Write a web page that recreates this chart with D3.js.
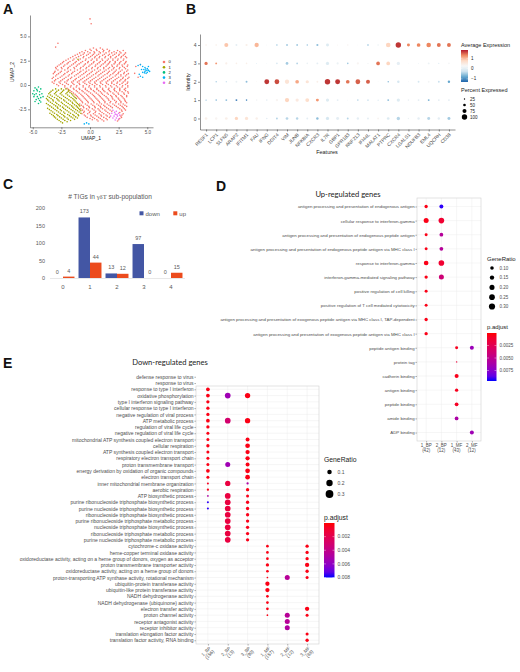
<!DOCTYPE html>
<html>
<head>
<meta charset="utf-8">
<script src="https://cdn.jsdelivr.net/npm/d3@7"></script>
<style>
  html, body { margin: 0; padding: 0; background: #fff; }
  svg { display: block; font-family: "Liberation Sans", Arial, sans-serif; }
</style>
</head>
<body>
<svg id="fig" width="520" height="672"></svg>
<script>
'use strict';

/* ---------- A: UMAP (rows of [y, [x...]]) ---------- */
const umapClusters = ['0', '1', '2', '3', '4'];
const umapColors = ['#F8766D', '#A3A500', '#00BF7D', '#00B0F6', '#E76BF3'];
const umap0Rows = [
  [3.8, [0.3, 0.9]],
  [3.68, [0.0, 0.55, 1.1, 1.5]],
  [3.55, [-0.4, 0.1, 0.6, 1.2, 1.7, 2.4, 2.9]],
  [3.42, [-0.7, -0.2, 0.35, 0.8, 1.15, 1.65, 2.1, 2.6]],
  [3.3, [-0.9, -0.5, 0.0, 0.4, 0.9, 1.4, 1.9, 2.3, 2.7, 3.1]],
  [3.17, [-1.1, -0.6, -0.15, 0.3, 0.75, 1.25, 1.7, 2.15, 2.55, 3.0]],
  [3.05, [-1.3, -0.8, -0.3, 0.2, 0.6, 1.1, 1.6, 2.0, 2.5, 2.9]],
  [2.92, [-1.5, -1.0, -0.55, 0.05, 0.45, 0.85, 1.35, 1.8, 2.3, 2.75, 3.1]],
  [2.8, [-1.7, -1.2, -0.6, -0.1, 0.4, 0.8, 1.3, 1.8, 2.2, 2.7, 3.2]],
  [2.68, [-1.9, -1.4, -0.85, -0.35, 0.2, 0.6, 1.05, 1.6, 2.0, 2.45, 2.95]],
  [2.55, [-2.1, -1.5, -1.0, -0.4, 0.1, 0.6, 1.1, 1.5, 2.0, 2.4, 2.9]],
  [2.42, [-2.3, -1.75, -1.2, -0.65, -0.15, 0.35, 0.9, 1.35, 1.75, 2.2, 2.7, 3.15]],
  [2.3, [-2.4, -1.9, -1.3, -0.8, -0.2, 0.3, 0.8, 1.3, 1.7, 2.2, 2.6, 3.1]],
  [2.17, [-2.55, -2.0, -1.45, -0.95, -0.4, 0.15, 0.65, 1.15, 1.6, 2.1, 2.55, 3.0]],
  [2.05, [-2.7, -2.2, -1.6, -1.1, -0.5, 0.0, 0.5, 1.0, 1.5, 1.9, 2.4, 2.8, 3.3]],
  [1.92, [-2.85, -2.3, -1.75, -1.2, -0.6, -0.1, 0.45, 0.9, 1.4, 1.95, 2.35, 2.85, 3.25]],
  [1.8, [-3.0, -2.5, -1.9, -1.4, -0.8, -0.3, 0.2, 0.7, 1.2, 1.7, 2.1, 2.6, 3.0]],
  [1.67, [-2.95, -2.45, -1.95, -1.35, -0.85, -0.35, 0.15, 0.65, 1.2, 1.6, 2.05, 2.55, 3.1]],
  [1.55, [-2.8, -2.2, -1.7, -1.1, -0.6, -0.1, 0.4, 0.9, 1.4, 1.9, 2.3, 2.8, 3.3]],
  [1.42, [-3.05, -2.5, -1.9, -1.35, -0.8, -0.3, 0.2, 0.75, 1.25, 1.7, 2.2, 2.65, 3.2]],
  [1.3, [-3.1, -2.6, -2.0, -1.5, -0.9, -0.4, 0.1, 0.6, 1.1, 1.6, 2.1, 2.5, 3.0]],
  [1.17, [-3.2, -2.75, -2.2, -1.6, -1.05, -0.55, -0.05, 0.5, 0.95, 1.5, 2.0, 2.45, 2.95, 3.35]],
  [1.05, [-2.9, -2.3, -1.8, -1.2, -0.7, -0.2, 0.3, 0.8, 1.3, 1.8, 2.3, 2.7, 3.2]],
  [0.92, [-3.0, -2.45, -1.9, -1.35, -0.85, -0.3, 0.15, 0.7, 1.15, 1.7, 2.2, 2.7, 3.1]],
  [0.8, [-3.2, -2.6, -2.1, -1.6, -1.0, -0.5, 0.0, 0.5, 1.0, 1.5, 2.0, 2.5, 2.9, 3.4]],
  [0.67, [-3.3, -2.8, -2.25, -1.7, -1.2, -0.65, -0.15, 0.35, 0.85, 1.35, 1.85, 2.35, 2.85, 3.3]],
  [0.55, [-3.0, -2.4, -1.9, -1.3, -0.8, -0.3, 0.2, 0.7, 1.2, 1.7, 2.2, 2.7, 3.1]],
  [0.42, [-3.1, -2.55, -2.0, -1.45, -0.95, -0.45, 0.05, 0.55, 1.05, 1.55, 2.05, 2.6, 3.05]],
  [0.3, [-3.3, -2.7, -2.2, -1.6, -1.1, -0.6, -0.1, 0.4, 0.9, 1.4, 1.9, 2.4, 2.9, 3.3]],
  [0.17, [-3.15, -2.6, -2.05, -1.5, -0.95, -0.45, 0.0, 0.45, 0.95, 1.45, 1.9, 2.35, 2.8, 3.25]],
  [0.05, [-2.9, -2.4, -1.9, -1.4, -0.9, -0.3, 0.2, 0.6, 1.1, 1.6, 2.1, 2.6, 3.1]],
  [-0.08, [-2.75, -2.2, -1.65, -1.15, -0.6, -0.05, 0.4, 0.85, 1.35, 1.8, 2.3, 2.85, 3.3]],
  [-0.2, [-2.2, -1.7, -1.2, -0.6, -0.1, 0.4, 0.9, 1.4, 1.9, 2.4, 2.8, 3.3]],
  [-0.33, [-2.0, -1.45, -0.95, -0.4, 0.05, 0.6, 1.1, 1.65, 2.15, 2.6, 3.1]],
  [-0.45, [-1.9, -1.4, -0.9, -0.4, 0.1, 0.6, 1.1, 1.6, 2.1, 2.6, 3.0]],
  [-0.58, [-1.75, -1.2, -0.7, -0.25, 0.3, 0.75, 1.2, 1.7, 2.15, 2.6, 3.1]],
  [-0.7, [-1.6, -1.1, -0.6, -0.1, 0.4, 0.9, 1.3, 1.8, 2.3, 2.8, 3.3]],
  [-0.83, [-1.45, -0.95, -0.45, 0.05, 0.55, 1.0, 1.5, 2.0, 2.45, 2.95, 3.35]],
  [-0.95, [-1.3, -0.8, -0.3, 0.2, 0.7, 1.1, 1.6, 2.1, 2.5, 3.0]],
  [-1.08, [-1.2, -0.7, -0.2, 0.3, 0.8, 1.25, 1.8, 2.25, 2.7, 3.2]],
  [-1.2, [-1.1, -0.6, -0.1, 0.4, 0.9, 1.4, 1.9, 2.3, 2.8, 3.2]],
  [-1.33, [-1.0, -0.5, 0.0, 0.5, 1.0, 1.5, 1.95, 2.45, 2.9]],
  [-1.45, [-0.9, -0.4, 0.1, 0.6, 1.1, 1.6, 2.0, 2.5, 3.0]],
  [-1.58, [-0.8, -0.3, 0.2, 0.7, 1.2, 1.65, 2.15, 2.6, 3.05]],
  [-1.7, [-0.7, -0.2, 0.3, 0.8, 1.3, 1.8, 2.3, 2.7, 3.1]],
  [-1.83, [-0.65, -0.15, 0.35, 0.85, 1.3, 1.75, 2.25, 2.7, 3.2]],
  [-1.95, [-0.9, -0.4, 0.1, 0.6, 1.0, 1.5, 2.0, 2.5, 2.9]],
  [-2.08, [-0.75, -0.25, 0.25, 0.75, 1.2, 1.65, 2.15, 2.65, 3.05]],
  [-2.2, [-0.6, -0.1, 0.4, 0.9, 1.3, 1.8, 2.3, 2.8, 3.2]],
  [-2.33, [-0.55, -0.05, 0.45, 0.95, 1.45, 1.95, 2.45, 2.9]],
  [-2.45, [-0.8, -0.3, 0.2, 0.7, 1.1, 1.6, 2.6, 3.0]],
  [-2.58, [-0.65, -0.15, 0.35, 0.8, 1.3, 1.75, 2.75, 3.1]],
  [-2.7, [-0.5, 0.0, 0.5, 0.9, 1.4, 1.9, 2.8]],
  [-2.83, [-0.55, -0.05, 0.45, 1.05, 1.55, 2.6]],
  [-2.95, [-0.7, -0.2, 0.3, 0.8, 1.2, 1.7, 2.9]],
  [-3.08, [-0.5, 0.05, 0.45, 0.95, 1.4, 2.8]],
  [-3.2, [-0.4, 0.1, 0.6, 1.0, 1.5, 2.7]],
  [-3.33, [-0.25, 0.25, 0.75, 1.2, 1.7, 2.75]],
  [-3.45, [0.0, 0.4, 0.9, 1.4, 2.6]],
  [-3.58, [0.2, 0.6, 1.05, 1.5, 2.5]],
  [-3.7, [0.7, 1.2, 2.4]]
];
const umap0Extra = [[0.0, 6.8], [0.1, 6.3], [-2.8, 4.3], [-3.0, 3.9], [4.0, 1.9], [3.9, 1.2], [4.2, 0.8], [4.4, 2.1]];
const umap1Rows = [
  [-0.4, [-3.0, -2.5, -2.1]],
  [-0.53, [-3.25, -2.75, -2.3, -1.85]],
  [-0.65, [-3.4, -2.9, -2.4, -1.9]],
  [-0.78, [-3.5, -3.0, -2.5, -2.0, -1.75]],
  [-0.9, [-3.6, -3.1, -2.6, -2.1, -1.6]],
  [-1.03, [-3.45, -2.95, -2.45, -1.95, -1.5]],
  [-1.15, [-3.7, -3.3, -2.8, -2.3, -1.8, -1.4]],
  [-1.28, [-3.55, -3.1, -2.65, -2.15, -1.65, -1.3]],
  [-1.4, [-3.8, -3.4, -2.9, -2.5, -2.0, -1.5, -1.2]],
  [-1.53, [-3.7, -3.25, -2.8, -2.3, -1.85, -1.4]],
  [-1.65, [-3.6, -3.2, -2.7, -2.2, -1.7, -1.3]],
  [-1.78, [-3.45, -3.0, -2.5, -2.05, -1.55, -1.2]],
  [-1.9, [-3.8, -3.3, -2.9, -2.4, -1.9, -1.5, -1.1]],
  [-2.03, [-3.65, -3.15, -2.75, -2.25, -1.75, -1.35, -1.0]],
  [-2.15, [-3.5, -3.0, -2.6, -2.1, -1.6, -1.2, -0.9]],
  [-2.28, [-3.35, -2.85, -2.4, -1.95, -1.5, -1.1]],
  [-2.4, [-3.7, -3.2, -2.8, -2.3, -1.8, -1.4, -1.0]],
  [-2.53, [-3.55, -3.05, -2.6, -2.15, -1.65, -1.25, -0.9]],
  [-2.65, [-3.4, -2.9, -2.5, -2.0, -1.5, -1.1, -0.8]],
  [-2.78, [-3.25, -2.75, -2.3, -1.85, -1.35, -0.95]],
  [-2.9, [-3.5, -3.1, -2.6, -2.2, -1.7, -1.2, -0.8]],
  [-3.03, [-3.35, -2.9, -2.45, -1.95, -1.5, -1.05]],
  [-3.15, [-3.2, -2.8, -2.3, -1.8, -1.4, -1.0]],
  [-3.28, [-3.1, -2.65, -2.2, -1.65, -1.25]],
  [-3.4, [-3.0, -2.5, -2.0, -1.5, -1.1]],
  [-3.53, [-2.85, -2.35, -1.9, -1.35]],
  [-3.65, [-2.7, -2.2, -1.7]],
  [-3.78, [-2.55, -2.0]],
  [-3.9, [-2.4]]
];
const umap1Extra = [[-1.05, 2.65]];
const umap2Pts = [[-4.8, -0.3], [-4.5, -0.2], [-4.3, -0.4], [-4.9, -0.6], [-4.6, -0.6], [-4.4, -0.7], [-5.0, -0.9],
  [-4.7, -0.9], [-4.4, -1.0], [-4.2, -0.9], [-4.9, -1.2], [-4.6, -1.2], [-4.3, -1.3], [-4.7, -1.5], [-4.4, -1.6],
  [-4.5, -1.9], [-4.8, -1.7], [-4.1, -1.2], [-4.65, -0.45], [-4.85, -1.0], [-4.5, -1.4], [-4.3, -1.75]];
const umap3Pts = [[4.6, 1.9], [4.8, 1.8], [5.0, 1.7], [4.7, 1.6], [4.9, 1.5], [5.1, 1.5], [4.8, 1.4], [5.0, 1.3],
  [4.6, 1.3], [4.9, 1.2], [5.2, 1.4], [4.5, 1.6], [4.4, 2.1], [4.2, 2.0], [4.4, 0.9], [4.6, 0.8], [4.3, 1.1],
  [5.1, 1.9], [4.85, 1.65], [5.05, 1.55], [4.75, 1.25], [-0.5, -4.0], [-0.3, -3.9], [-0.1, -4.0]];
const umap4Pts = [[2.0, -2.6], [2.3, -2.7], [1.9, -2.9], [2.2, -3.0], [2.5, -2.9], [1.8, -3.2], [2.1, -3.2],
  [2.4, -3.2], [2.6, -3.1], [2.0, -3.4], [2.3, -3.4], [2.5, -3.5], [2.2, -3.6], [2.15, -2.8], [2.35, -3.05]];
const umapTicksX = [-5, -2.5, 0, 2.5, 5];
const umapTicksY = [-2.5, 0, 2.5, 5];

/* ---------- B: dot plot ---------- */
const bGenes = ['RESF1', 'LCP1', 'SLFN5', 'ARAP2', 'IFITM1', 'FAU', 'IFNG', 'DDIT4', 'VIM', 'JUNB', 'NFKBIA', 'CXCR3',
  'IL7R', 'GBP1', 'GPR183', 'RNF213', 'IFI44L', 'MALAT1', 'PTPRC', 'CXCR4', 'LGALS1', 'NDUFB3', 'EML4', 'UQCRH', 'CD38'];
const bIdent = ['0', '1', '2', '3', '4'];
const bAvg = [
  [0.4, 0.3, 0.4, 0.8, 0.6, 0.4, 0.0, -0.4, -0.4, -0.4, 0.0, -0.6, -0.2, 0.0, -0.4, 0.0, 0.0, 0.3, -0.1, -0.4, 0.1, 0.0, -0.4, 0.0, -0.5],
  [-0.6, -0.6, -0.6, -1.1, -1.0, 0.2, 0.0, 0.3, 0.8, 0.5, 0.7, 1.2, -0.1, 0.0, 0.0, -0.4, -0.5, -0.6, -0.6, -0.1, 0.1, 0.0, -0.7, 0.0, 0.0],
  [0.1, -0.5, -0.3, 0.1, -0.6, 0.3, 1.7, 1.6, 0.6, 1.1, 0.6, 0.4, 1.7, 1.7, 1.4, 1.5, 1.5, 0.2, -0.7, -0.2, 0.1, -0.2, 0.2, -0.3, -0.8],
  [1.4, 1.2, 0.4, 0.4, 0.4, -0.3, 0.1, -0.2, -0.5, -0.4, 0.1, 0.0, -0.1, 0.1, -0.5, 0.3, 0.2, 1.4, 0.8, 0.0, 0.2, -0.1, 0.1, -0.1, 0.2],
  [0.4, 0.4, 0.9, 0.0, 0.4, 1.0, 0.1, -0.5, -0.5, -0.5, -0.6, -0.6, -0.1, 0.3, 0.3, 0.2, -0.6, 0.1, 0.8, 1.7, 1.3, 1.3, 1.3, 1.4, 1.4]
];
const bPct = [
  [50, 45, 50, 60, 60, 45, 30, 35, 50, 45, 35, 45, 60, 55, 35, 45, 35, 35, 50, 62, 25, 45, 55, 45, 55],
  [25, 30, 35, 35, 30, 30, 30, 45, 80, 60, 72, 55, 60, 35, 15, 30, 25, 18, 35, 60, 30, 35, 35, 35, 35],
  [15, 25, 25, 35, 35, 15, 90, 88, 80, 68, 60, 35, 100, 92, 68, 88, 74, 15, 25, 45, 15, 35, 35, 35, 45],
  [60, 35, 40, 30, 30, 15, 15, 30, 50, 35, 30, 35, 60, 40, 30, 40, 25, 68, 68, 60, 15, 15, 35, 20, 30],
  [30, 30, 75, 35, 40, 80, 15, 30, 35, 35, 25, 40, 55, 20, 30, 15, 30, 30, 85, 100, 55, 68, 85, 72, 72]
];
const bExpRange = [-1.3, 1.8];
const bExpTicks = [1, 0, -1];
const bPctTicks = [25, 50, 75, 100];

/* ---------- C: bar chart ---------- */
const cCats = ['0', '1', '2', '3', '4'];
const cDown = [0, 173, 13, 97, 0];
const cUp = [4, 44, 12, 0, 15];
const cTicks = [0, 50, 100, 150, 200];

/* ---------- D: up-regulated GO terms ---------- */
const dTerms = [
  'antigen processing and presentation of endogenous antigen',
  'cellular response to interferon-gamma',
  'antigen processing and presentation of endogenous peptide antigen',
  'antigen processing and presentation of endogenous peptide antigen via MHC class I',
  'response to interferon-gamma',
  'interferon-gamma-mediated signaling pathway',
  'positive regulation of cell killing',
  'positive regulation of T cell mediated cytotoxicity',
  'antigen processing and presentation of exogenous peptide antigen via MHC class I, TAP-dependent',
  'antigen processing and presentation of exogenous peptide antigen via MHC class I',
  'peptide antigen binding', 'protein tag', 'cadherin binding', 'antigen binding',
  'peptide binding', 'amide binding', 'ADP binding'
];
const dCols = ['1_BP', '2_BP', '1_MF', '2_MF'];
const dColN = [42, 12, 43, 12];
// [term, column, GeneRatio, p.adjust]
const dDots = [
  [0, 0, 0.085, 0.0004], [0, 1, 0.125, 0.0094],
  [1, 0, 0.195, 0.0004], [1, 1, 0.25, 0.0012],
  [2, 0, 0.07, 0.0004], [2, 1, 0.11, 0.0055],
  [3, 0, 0.07, 0.0004], [3, 1, 0.11, 0.0055],
  [4, 0, 0.17, 0.0004], [4, 1, 0.25, 0.0012],
  [5, 0, 0.085, 0.0004], [5, 1, 0.195, 0.004],
  [6, 0, 0.07, 0.0004], [7, 0, 0.07, 0.0004], [8, 0, 0.085, 0.0004], [9, 0, 0.085, 0.0004],
  [10, 2, 0.07, 0.0006], [10, 3, 0.125, 0.0068],
  [11, 2, 0.017, 0.0015], [12, 2, 0.125, 0.0005], [13, 2, 0.085, 0.0006],
  [14, 2, 0.11, 0.0008], [15, 2, 0.11, 0.006], [16, 3, 0.125, 0.0066]
];
const dRatioTicks = [0.10, 0.15, 0.20, 0.25, 0.30];
const dPRange = [0, 0.0096];
const dPTicks = [0.0025, 0.0050, 0.0075];

/* ---------- E: down-regulated GO terms ---------- */
const eTerms = [
  'defense response to virus', 'response to virus', 'response to type I interferon', 'oxidative phosphorylation',
  'type I interferon signaling pathway', 'cellular response to type I interferon', 'negative regulation of viral process',
  'ATP metabolic process', 'regulation of viral life cycle', 'negative regulation of viral life cycle',
  'mitochondrial ATP synthesis coupled electron transport', 'cellular respiration', 'ATP synthesis coupled electron transport',
  'respiratory electron transport chain', 'proton transmembrane transport', 'energy derivation by oxidation of organic compounds',
  'electron transport chain', 'inner mitochondrial membrane organization', 'aerobic respiration', 'ATP biosynthetic process',
  'purine ribonucleoside triphosphate biosynthetic process', 'purine nucleoside triphosphate biosynthetic process',
  'ribonucleoside triphosphate biosynthetic process', 'purine ribonucleoside triphosphate metabolic process',
  'nucleoside triphosphate biosynthetic process', 'ribonucleoside triphosphate metabolic process',
  'purine nucleoside triphosphate metabolic process', 'cytochrome-c oxidase activity', 'heme-copper terminal oxidase activity',
  'oxidoreductase activity, acting on a heme group of donors, oxygen as acceptor', 'proton transmembrane transporter activity',
  'oxidoreductase activity, acting on a heme group of donors', 'proton-transporting ATP synthase activity, rotational mechanism',
  'ubiquitin-protein transferase activity', 'ubiquitin-like protein transferase activity', 'NADH dehydrogenase activity',
  'NADH dehydrogenase (ubiquinone) activity', 'electron transfer activity', 'proton channel activity',
  'receptor antagonist activity', 'receptor inhibitor activity', 'translation elongation factor activity',
  'translation factor activity, RNA binding'
];
const eCols = ['1_BP', '2_BP', '3_BP', '1_MF', '2_MF', '3_MF'];
const eColN = [156, 13, 90, 157, 12, 88];
// [term, column, GeneRatio, p.adjust]
const eDots = [
  [2, 0, 0.068, 0.0003],
  [3, 0, 0.068, 0.0003], [3, 1, 0.16, 0.0055], [3, 2, 0.14, 0.0003],
  [4, 0, 0.054, 0.0003], [5, 0, 0.054, 0.0003], [6, 0, 0.054, 0.0003],
  [7, 0, 0.068, 0.0003], [7, 1, 0.16, 0.003], [7, 2, 0.14, 0.0003],
  [8, 0, 0.054, 0.0003], [9, 0, 0.045, 0.0003],
  [10, 0, 0.045, 0.0003], [10, 2, 0.079, 0.0003],
  [11, 0, 0.054, 0.0003], [11, 2, 0.11, 0.0003],
  [12, 0, 0.045, 0.0003], [12, 2, 0.092, 0.0003],
  [13, 0, 0.045, 0.0003], [13, 2, 0.092, 0.0003],
  [14, 0, 0.045, 0.0003], [14, 1, 0.124, 0.0055], [14, 2, 0.079, 0.0003],
  [15, 0, 0.068, 0.0003], [15, 2, 0.11, 0.0003],
  [16, 0, 0.045, 0.0003], [16, 2, 0.11, 0.0003],
  [17, 0, 0.02, 0.0006], [17, 1, 0.14, 0.0015], [17, 2, 0.026, 0.005],
  [18, 0, 0.026, 0.0004], [18, 2, 0.054, 0.0003],
  [19, 0, 0.014, 0.005], [19, 1, 0.16, 0.0015], [19, 2, 0.045, 0.0004],
  [20, 0, 0.02, 0.0078], [20, 1, 0.16, 0.0015], [20, 2, 0.054, 0.0004],
  [21, 0, 0.02, 0.0078], [21, 1, 0.16, 0.0015], [21, 2, 0.054, 0.0004],
  [22, 1, 0.16, 0.0015], [22, 2, 0.054, 0.0004],
  [23, 1, 0.16, 0.0015], [23, 2, 0.054, 0.0004],
  [24, 1, 0.16, 0.0015], [24, 2, 0.054, 0.0004],
  [25, 1, 0.16, 0.0015], [25, 2, 0.054, 0.0004],
  [26, 1, 0.16, 0.0015], [26, 2, 0.054, 0.0004],
  [27, 3, 0.036, 0.0003], [27, 5, 0.054, 0.0003],
  [28, 3, 0.036, 0.0003], [28, 5, 0.054, 0.0003],
  [29, 3, 0.036, 0.0003], [29, 5, 0.054, 0.0003],
  [30, 3, 0.054, 0.0003], [30, 5, 0.092, 0.0003],
  [31, 3, 0.036, 0.0003], [31, 5, 0.054, 0.0003],
  [32, 3, 0.014, 0.0003], [32, 4, 0.124, 0.0045], [32, 5, 0.045, 0.0003],
  [33, 3, 0.092, 0.0003], [34, 3, 0.092, 0.0003],
  [35, 3, 0.036, 0.0003], [36, 3, 0.036, 0.0003],
  [37, 3, 0.036, 0.0003], [37, 5, 0.092, 0.0003],
  [38, 3, 0.014, 0.0003], [38, 4, 0.124, 0.0045], [38, 5, 0.045, 0.0003],
  [39, 4, 0.124, 0.0045], [40, 4, 0.124, 0.0048],
  [41, 5, 0.045, 0.0003], [42, 5, 0.054, 0.0003]
];
const eRatioTicks = [0.1, 0.2, 0.3];
const ePRange = [0, 0.008];
const ePTicks = [0.002, 0.004, 0.006, 0.008];

/* ========================================================================== */
const svg = d3.select('#fig');
const GREY = '#4d4d4d';

function styleAxis(g, size, lineColor) {
  g.selectAll('path.domain').attr('stroke', lineColor).attr('stroke-width', 0.5);
  g.selectAll('.tick line').attr('stroke', lineColor).attr('stroke-width', 0.5);
  g.selectAll('.tick text').attr('font-size', size).attr('fill', GREY).attr('font-family', null);
  g.attr('font-family', null);
}

function letter(ch, x, y) {
  svg.append('text').attr('x', x).attr('y', y).attr('font-size', 14).attr('font-weight', 'bold')
    .attr('fill', '#111').text(ch);
}
letter('A', 3, 14);
letter('B', 186, 14);
letter('C', 3, 189);
letter('D', 216, 191);
letter('E', 3, 368);

/* ---------- A ---------- */
(function () {
  const g = svg.append('g');
  const x = d3.scaleLinear().domain([-5.24, 5.5]).range([30, 153]);
  const y = d3.scaleLinear().domain([-4.35, 7.2]).range([127.3, 15]);
  const pts = [];
  umap0Rows.forEach(([yy, xs]) => xs.forEach(xx => pts.push([xx, yy, 0])));
  umap0Extra.forEach(p => pts.push([p[0], p[1], 0]));
  umap1Rows.forEach(([yy, xs]) => xs.forEach(xx => pts.push([xx, yy, 1])));
  umap1Extra.forEach(p => pts.push([p[0], p[1], 1]));
  umap2Pts.forEach(p => pts.push([p[0], p[1], 2]));
  umap3Pts.forEach(p => pts.push([p[0], p[1], 3]));
  umap4Pts.forEach(p => pts.push([p[0], p[1], 4]));

  g.append('g').selectAll('circle').data(pts).join('circle')
    .attr('cx', d => x(d[0])).attr('cy', d => y(d[1])).attr('r', 0.8)
    .attr('fill', d => umapColors[d[2]]);

  const gx = g.append('g').attr('transform', 'translate(0,127.3)')
    .call(d3.axisBottom(x).tickValues(umapTicksX).tickSize(2).tickSizeOuter(0).tickPadding(1.5)
      .tickFormat(d => d.toFixed(1)));
  styleAxis(gx, 4.5, '#222');
  const gy = g.append('g').attr('transform', 'translate(30,0)')
    .call(d3.axisLeft(y).tickValues(umapTicksY).tickSize(2).tickSizeOuter(0).tickPadding(1.5)
      .tickFormat(d => d.toFixed(1)));
  styleAxis(gy, 4.5, '#222');

  g.append('text').attr('x', 91).attr('y', 140).attr('text-anchor', 'middle')
    .attr('font-size', 5).attr('fill', '#222').text('UMAP_1');
  g.append('text').attr('transform', 'translate(14,72) rotate(-90)').attr('text-anchor', 'middle')
    .attr('font-size', 5).attr('fill', '#222').text('UMAP_2');

  const lg = g.append('g');
  umapClusters.forEach((c, i) => {
    lg.append('circle').attr('cx', 164).attr('cy', 62 + i * 5.2).attr('r', 1.3).attr('fill', umapColors[i]);
    lg.append('text').attr('x', 168.5).attr('y', 62 + i * 5.2).attr('dy', '0.35em')
      .attr('font-size', 4.2).attr('fill', '#222').text(c);
  });
})();

/* ---------- B ---------- */
(function () {
  const g = svg.append('g');
  const x = d3.scalePoint().domain(bGenes).range([200, 455]).padding(0.6);
  const y = d3.scalePoint().domain(bIdent).range([129.5, 34]).padding(0.6);
  const bColors = ['#2166AC', '#67A9CF', '#D1E5F0', '#F7F7F7', '#FDDBC7', '#EF8A62', '#B2182B'];
  const col = d3.scaleLinear()
    .domain(d3.range(7).map(i => bExpRange[0] + i * (bExpRange[1] - bExpRange[0]) / 6))
    .range(bColors).interpolate(d3.interpolateLab);
  const r = d3.scaleLinear().domain([0, 100]).range([0, 2.7]);

  const cells = [];
  bIdent.forEach((id, i) => bGenes.forEach((gn, j) => cells.push({ id, gn, v: bAvg[i][j], p: bPct[i][j] })));
  g.append('g').selectAll('circle').data(cells).join('circle')
    .attr('cx', d => x(d.gn)).attr('cy', d => y(d.id)).attr('r', d => r(d.p))
    .attr('fill', d => col(d.v));

  const gx = g.append('g').attr('transform', 'translate(0,129.5)')
    .call(d3.axisBottom(x).tickSize(2).tickSizeOuter(0));
  styleAxis(gx, 4.8, '#222');
  gx.selectAll('.tick text').attr('x', 0).attr('y', 0).attr('dy', '0.35em')
    .attr('transform', 'translate(0.5,4.5) rotate(-45)').attr('text-anchor', 'end');
  const gy = g.append('g').attr('transform', 'translate(200,0)')
    .call(d3.axisLeft(y).tickSize(2).tickSizeOuter(0).tickPadding(1.5));
  styleAxis(gy, 5, '#222');

  g.append('text').attr('x', 327).attr('y', 154).attr('text-anchor', 'middle')
    .attr('font-size', 5.5).attr('fill', '#222').text('Features');
  g.append('text').attr('transform', 'translate(190,82) rotate(-90)').attr('text-anchor', 'middle')
    .attr('font-size', 5.5).attr('fill', '#222').text('Identity');

  // legends
  const defs = svg.append('defs');
  const grad = defs.append('linearGradient').attr('id', 'bgrad').attr('x1', 0).attr('x2', 0).attr('y1', 0).attr('y2', 1);
  bColors.slice().reverse().forEach((c, i) => grad.append('stop').attr('offset', (i / 6 * 100) + '%').attr('stop-color', c));
  g.append('text').attr('x', 461).attr('y', 47).attr('font-size', 5.5).attr('fill', '#222').text('Average Expression');
  const cb = d3.scaleLinear().domain([bExpRange[1], bExpRange[0]]).range([50, 82]);
  g.append('rect').attr('x', 461).attr('y', 50).attr('width', 7).attr('height', 32).attr('fill', 'url(#bgrad)');
  bExpTicks.forEach(t => {
    g.append('line').attr('x1', 461).attr('x2', 462.5).attr('y1', cb(t)).attr('y2', cb(t)).attr('stroke', '#fff').attr('stroke-width', 0.4);
    g.append('line').attr('x1', 466.5).attr('x2', 468).attr('y1', cb(t)).attr('y2', cb(t)).attr('stroke', '#fff').attr('stroke-width', 0.4);
    g.append('text').attr('x', 471).attr('y', cb(t)).attr('dy', '0.35em').attr('font-size', 4.5)
      .attr('fill', '#222').text(t < 0 ? '\u2212' + Math.abs(t) : t);
  });
  g.append('text').attr('x', 461).attr('y', 92).attr('font-size', 5.5).attr('fill', '#222').text('Percent Expressed');
  const ly = d3.scaleLinear().domain([25, 100]).range([99, 117]);
  bPctTicks.forEach(t => {
    g.append('circle').attr('cx', 464.5).attr('cy', ly(t)).attr('r', r(t)).attr('fill', '#000');
    g.append('text').attr('x', 470).attr('y', ly(t)).attr('dy', '0.35em').attr('font-size', 4.5)
      .attr('fill', '#222').text(t);
  });
})();

/* ---------- C ---------- */
(function () {
  const g = svg.append('g');
  const x0 = d3.scaleBand().domain(cCats).range([49.5, 184.5]).paddingInner(0.15).paddingOuter(0.075);
  const x1 = d3.scaleBand().domain(['down', 'up']).range([0, x0.bandwidth()]);
  const y = d3.scaleLinear().domain([0, 200]).range([278, 208]);
  const colors = { down: '#4356A4', up: '#EC4B1D' };
  const TXT = '#595959';

  g.append('text').attr('x', 110).attr('y', 198.5).attr('text-anchor', 'middle').attr('font-size', 6.6).attr('fill', TXT)
    .call(t => {
      t.append('tspan').text('# TIGs in ');
      t.append('tspan').attr('font-family', '"Liberation Serif", "DejaVu Serif", serif').text('\u03B3\u03B4T');
      t.append('tspan').text(' sub-population');
    });

  const gy = g.append('g').attr('transform', 'translate(47,0)')
    .call(d3.axisLeft(y).tickValues(cTicks).tickSize(0).tickPadding(2));
  gy.select('.domain').remove();
  gy.selectAll('.tick text').attr('font-size', 5.5).attr('fill', TXT);
  gy.attr('font-family', null);

  const gx = g.append('g').attr('transform', `translate(0,${y(0)})`)
    .call(d3.axisBottom(x0).tickSize(0).tickPadding(7));
  gx.select('.domain').attr('stroke', '#d9d9d9').attr('stroke-width', 0.6);
  gx.selectAll('.tick text').attr('font-size', 6).attr('fill', TXT);
  gx.attr('font-family', null);

  const series = [];
  cCats.forEach((c, i) => {
    series.push({ c, k: 'down', v: cDown[i] });
    series.push({ c, k: 'up', v: cUp[i] });
  });
  g.append('g').selectAll('rect').data(series).join('rect')
    .attr('x', d => x0(d.c) + x1(d.k)).attr('width', x1.bandwidth())
    .attr('y', d => y(d.v)).attr('height', d => y(0) - y(d.v))
    .attr('fill', d => colors[d.k]);
  g.append('g').selectAll('text').data(series).join('text')
    .attr('x', d => x0(d.c) + x1(d.k) + x1.bandwidth() / 2).attr('y', d => y(d.v) - 4)
    .attr('text-anchor', 'middle').attr('font-size', 5.5).attr('fill', TXT).text(d => d.v);

  [['down', 139.5, 145.5], ['up', 173.3, 179.3]].forEach(([k, rx, tx]) => {
    g.append('rect').attr('x', rx).attr('y', 211.3).attr('width', 4).attr('height', 4).attr('fill', colors[k]);
    g.append('text').attr('x', tx).attr('y', 215.6).attr('font-size', 6).attr('fill', TXT).text(k);
  });
})();

/* ---------- D / E shared enrichment dot plot ---------- */
function enrichPanel(o) {
  const g = svg.append('g');
  const x = d3.scalePoint().domain(o.cols).range(o.xRange).padding(0.6);
  const y = d3.scalePoint().domain(o.terms).range(o.yRange).padding(0.6);
  const col = d3.scaleSequential(d3.interpolateLab('red', 'blue')).domain(o.pRange);
  const left = o.xRange[0], right = o.xRange[1], bottom = o.yRange[1];
  const top = o.panelTop;

  g.append('rect').attr('x', left).attr('y', top).attr('width', right - left).attr('height', bottom - top)
    .attr('fill', '#fff');
  o.terms.forEach(t => {
    if (y(t) < top) return;
    g.append('line').attr('x1', left).attr('x2', right).attr('y1', y(t)).attr('y2', y(t))
      .attr('stroke', '#ebebeb').attr('stroke-width', 0.45);
  });
  o.cols.forEach(c => g.append('line').attr('x1', x(c)).attr('x2', x(c)).attr('y1', top).attr('y2', bottom)
    .attr('stroke', '#ebebeb').attr('stroke-width', 0.45));
  g.append('rect').attr('x', left).attr('y', top).attr('width', right - left).attr('height', bottom - top)
    .attr('fill', 'none').attr('stroke', '#cfcfcf').attr('stroke-width', 0.6);

  const gy = g.append('g').attr('transform', `translate(${left},0)`)
    .call(d3.axisLeft(y).tickSize(1.6).tickSizeOuter(0).tickPadding(0.8));
  gy.select('.domain').remove();
  styleAxis(gy, o.labelSize, '#666');

  const gx = g.append('g').attr('transform', `translate(0,${bottom})`)
    .call(d3.axisBottom(x).tickSize(1.6).tickSizeOuter(0).tickFormat(''));
  gx.select('.domain').remove();
  styleAxis(gx, o.labelSize, '#666');
  o.cols.forEach((c, i) => {
    const t = g.append('text').attr('font-size', o.colLabelSize).attr('fill', GREY);
    if (o.rotate) {
      t.attr('transform', `translate(${x(c) + 2.2},${bottom + 3.5}) rotate(-45)`).attr('text-anchor', 'end');
      t.append('tspan').attr('x', 0).attr('dy', '0.3em').text(c);
      t.append('tspan').attr('x', 0).attr('dy', '1.05em').text(`(${o.colN[i]})`);
    } else {
      t.attr('text-anchor', 'middle');
      t.append('tspan').attr('x', x(c)).attr('y', bottom + 5.5).text(c);
      t.append('tspan').attr('x', x(c)).attr('y', bottom + 10.5).text(`(${o.colN[i]})`);
    }
  });

  g.append('g').selectAll('circle').data(o.dots).join('circle')
    .attr('cx', d => x(o.cols[d[1]])).attr('cy', d => y(o.terms[d[0]]))
    .attr('r', d => o.r(d[2])).attr('fill', d => col(d[3]));

  g.append('text').attr('x', o.titleX).attr('y', o.titleY).attr('text-anchor', 'middle')
    .attr('font-family', 'Lato, "Open Sans", sans-serif').attr('font-size', 7.6).attr('fill', '#222').text(o.title);

  // legends
  const L = o.legend;
  g.append('text').attr('x', L.x).attr('y', L.sizeTitleY).attr('font-size', L.titleSize).attr('fill', '#222').text('GeneRatio');
  o.ratioTicks.forEach((t, i) => {
    const yy = L.sizeY[i];
    g.append('circle').attr('cx', L.dotX).attr('cy', yy).attr('r', o.r(t)).attr('fill', '#000');
    g.append('text').attr('x', L.textX).attr('y', yy).attr('dy', '0.35em').attr('font-size', L.tickSize)
      .attr('fill', GREY).text(L.ratioFmt(t));
  });
  g.append('text').attr('x', L.x).attr('y', L.colTitleY).attr('font-size', L.titleSize).attr('fill', '#222').text('p.adjust');
  const gid = 'grad' + o.id;
  const grad = svg.append('defs').append('linearGradient').attr('id', gid)
    .attr('x1', 0).attr('x2', 0).attr('y1', 0).attr('y2', 1);
  d3.range(11).forEach(i => grad.append('stop').attr('offset', (i * 10) + '%')
    .attr('stop-color', col(o.pRange[0] + i / 10 * (o.pRange[1] - o.pRange[0]))));
  const cb = d3.scaleLinear().domain(o.pRange).range(L.barY);
  g.append('rect').attr('x', L.x).attr('y', L.barY[0]).attr('width', L.barW).attr('height', L.barY[1] - L.barY[0])
    .attr('fill', `url(#${gid})`);
  o.pTicks.forEach(t => {
    g.append('line').attr('x1', L.x).attr('x2', L.x + 2).attr('y1', cb(t)).attr('y2', cb(t)).attr('stroke', '#fff').attr('stroke-width', 0.4);
    g.append('line').attr('x1', L.x + L.barW - 2).attr('x2', L.x + L.barW).attr('y1', cb(t)).attr('y2', cb(t)).attr('stroke', '#fff').attr('stroke-width', 0.4);
    g.append('text').attr('x', L.textX).attr('y', cb(t)).attr('dy', '0.35em').attr('font-size', L.tickSize)
      .attr('fill', GREY).text(L.pFmt(t));
  });
}

enrichPanel({
  id: 'D', terms: dTerms, cols: dCols, colN: dColN, dots: dDots,
  xRange: [417, 481], yRange: [198, 441], panelTop: 198,
  labelSize: 4.4, colLabelSize: 4.5, rotate: false,
  r: d3.scaleSqrt().domain([0, 0.3]).range([0, 3.1]),
  pRange: dPRange, pTicks: dPTicks, ratioTicks: dRatioTicks,
  title: 'Up-regulated genes', titleX: 348, titleY: 196.5,
  legend: {
    x: 487, dotX: 492, textX: 499.5, sizeTitleY: 260.5, sizeY: [268, 277.6, 287.4, 297.2, 306.5],
    colTitleY: 329, barY: [333, 381], barW: 9.5, titleSize: 6, tickSize: 4.5,
    ratioFmt: d3.format('.2f'), pFmt: d3.format('.4f')
  }
});

enrichPanel({
  id: 'E', terms: eTerms, cols: eCols, colN: eColN, dots: eDots,
  xRange: [196, 319], yRange: [373, 644], panelTop: 386,
  labelSize: 5, colLabelSize: 4.6, rotate: true,
  r: d3.scaleSqrt().domain([0, 0.35]).range([0, 4.2]),
  pRange: ePRange, pTicks: ePTicks, ratioTicks: eRatioTicks,
  title: 'Down-regulated genes', titleX: 170, titleY: 364.5,
  legend: {
    x: 324, dotX: 329.5, textX: 337.5, sizeTitleY: 461.5, sizeY: [472, 483, 494],
    colTitleY: 519.5, barY: [523, 577.5], barW: 10.5, titleSize: 6.8, tickSize: 5,
    ratioFmt: d3.format('.1f'), pFmt: d3.format('.3f')
  }
});
</script>
</body>
</html>
